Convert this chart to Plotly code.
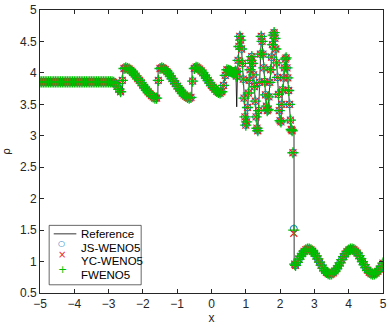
import numpy as np
import plotly.graph_objects as go

# numerical grid (cell centres), finer in the oscillatory zone
x_a = np.round(np.arange(-5.0, 0.476, 0.05), 3)
x_b = np.round(np.arange(0.5, 2.426, 0.025), 3)
x_c = np.round(np.arange(2.45, 5.001, 0.05), 3)

# density
rho_a = [3.857] * 43 + [
    3.85, 3.83, 3.79, 3.74, 3.70, 3.88, 4.07,
    4.08, 4.07, 4.06, 4.04, 4.01, 3.98, 3.95, 3.91, 3.88, 3.84, 3.80,
    3.77, 3.73, 3.70, 3.67, 3.64, 3.62, 3.60, 3.60, 3.88, 4.07,
    4.08, 4.07, 4.05, 4.02, 3.99, 3.95, 3.91, 3.87, 3.83, 3.79,
    3.75, 3.72, 3.68, 3.65, 3.63, 3.61, 3.60, 3.61, 3.87, 4.07,
    4.09, 4.08, 4.06, 4.03, 4.00, 3.96, 3.92, 3.88, 3.84, 3.80,
    3.77, 3.74, 3.71, 3.69, 3.68, 3.70, 3.80, 3.96, 4.05,
]
rho_b = [
    4.04, 4.03, 4.03, 4.02, 4.01, 4.00, 4.00, 4.01, 4.03, 3.95,
    4.02, 4.20, 4.42, 4.58, 4.52, 4.38, 4.15, 3.90, 3.60, 3.30,
    3.17, 3.22, 3.45, 3.68, 3.88, 4.05, 4.20, 4.26, 4.15, 3.97,
    3.78, 3.55, 3.30, 3.12, 3.08, 3.40, 3.85, 4.30, 4.58, 4.50,
    4.30, 4.08, 3.86, 3.65, 3.47, 3.40, 3.42, 3.62, 3.85, 4.05,
    4.25, 4.45, 4.60, 4.64, 4.55, 4.38, 4.16, 3.93, 3.66, 3.40,
    3.24, 3.22, 3.50, 3.73, 3.92, 4.08, 4.22, 4.24, 4.08, 3.92,
    3.72, 3.50, 3.25, 3.10, 3.08, 2.73, 1.50, 0.96,
]
rho_c = [
    0.938, 0.987, 1.037, 1.084, 1.126, 1.161, 1.185, 1.198, 1.199, 1.187,
    1.164, 1.130, 1.088, 1.041, 0.992, 0.942, 0.897, 0.858, 0.827, 0.808,
    0.800, 0.805, 0.822, 0.850, 0.886, 0.931, 0.980, 1.030, 1.078, 1.121,
    1.157, 1.183, 1.197, 1.199, 1.189, 1.167, 1.135, 1.094, 1.048, 0.998,
    0.949, 0.903, 0.862, 0.830, 0.809, 0.800, 0.804, 0.819, 0.845, 0.881,
    0.925, 0.974,
]
# value of the cell sitting in the main shock, per scheme
shock_js = 1.52
shock_yc = 1.45
shock_fw = 1.50

# reference solution (fine grid) key points up to the shock
ref_x = [-5.0, -2.90, -2.85, -2.80, -2.75, -2.70, -2.64, -2.595, -2.585, -2.50,
         -2.40, -2.30, -2.20, -2.10, -2.00, -1.90, -1.80, -1.70, -1.62, -1.565,
         -1.555, -1.45, -1.35, -1.25, -1.15, -1.05, -0.95, -0.85, -0.75, -0.65,
         -0.575, -0.565, -0.45, -0.35, -0.25, -0.15, -0.05, 0.05, 0.15, 0.25,
         0.30, 0.35, 0.40, 0.45, 0.55, 0.65, 0.71, 0.735, 0.76, 0.80,
         0.835, 0.87, 0.92, 0.96, 1.01, 1.06, 1.12, 1.18, 1.23, 1.28,
         1.35, 1.40, 1.455, 1.50, 1.55, 1.60, 1.645, 1.70, 1.76, 1.835,
         1.88, 1.93, 1.98, 2.02, 2.07, 2.13, 2.17, 2.22, 2.27, 2.32,
         2.36, 2.405, 2.41]
ref_rho = [3.857, 3.857, 3.85, 3.83, 3.79, 3.74, 3.69, 3.68, 4.07, 4.08,
           4.06, 4.01, 3.95, 3.88, 3.80, 3.73, 3.67, 3.62, 3.59, 3.60,
           4.07, 4.08, 4.05, 3.99, 3.91, 3.83, 3.75, 3.68, 3.63, 3.60,
           3.60, 4.08, 4.09, 4.06, 4.00, 3.92, 3.84, 3.77, 3.71, 3.67,
           3.69, 3.80, 3.97, 4.05, 4.03, 4.00, 4.04, 3.46, 4.05, 4.45,
           4.64, 4.45, 4.00, 3.50, 3.12, 3.50, 4.00, 4.28, 3.95, 3.50,
           3.03, 3.80, 4.64, 4.30, 3.85, 3.45, 3.38, 3.85, 4.30, 4.68,
           4.35, 3.90, 3.35, 3.20, 3.70, 4.10, 4.26, 3.95, 3.55, 3.08,
           3.10, 3.12, 0.91]

legend_labels = ["Reference", "JS-WENO5", "YC-WENO5", "FWENO5"]

x_num = np.concatenate([x_a, x_b, x_c])
i_shock = len(x_a) + list(x_b).index(2.4)


def scheme(shock_val):
    vals = list(rho_a) + list(rho_b) + list(rho_c)
    vals[i_shock] = shock_val
    return vals


x_ref = list(ref_x) + list(x_c)
y_ref = list(ref_rho) + list(rho_c)

AX = "#262626"
BLUE = "#0072BD"
RED = "#F01E1E"
GREEN = "#00BE00"
FONT = "Liberation Sans, Arial"

fig = go.Figure()
fig.add_trace(go.Scatter(x=x_ref, y=y_ref, mode="lines", name=legend_labels[0],
                         line=dict(color="black", width=0.8)))
fig.add_trace(go.Scatter(x=x_num, y=scheme(shock_js), mode="markers", name=legend_labels[1],
                         marker=dict(symbol="circle-open", size=7, color=BLUE,
                                     line=dict(width=1))))
fig.add_trace(go.Scatter(x=x_num, y=scheme(shock_yc), mode="markers", name=legend_labels[2],
                         marker=dict(symbol="x-thin-open", size=7, color=RED,
                                     line=dict(width=1.1, color=RED))))
fig.add_trace(go.Scatter(x=x_num, y=scheme(shock_fw), mode="markers", name=legend_labels[3],
                         marker=dict(symbol="cross-thin-open", size=8, color=GREEN,
                                     line=dict(width=1.3, color=GREEN))))

axis_style = dict(showline=True, linecolor=AX, linewidth=0.8, mirror="ticks",
                  ticks="inside", ticklen=4, tickcolor=AX, tickwidth=0.8,
                  showgrid=False, zeroline=False, ticklabeloverflow="allow",
                  tickfont=dict(family=FONT, size=12, color=AX))
fig.update_xaxes(range=[-5.0001, 5.0001], dtick=1, tick0=-5,
                 title=dict(text="x", standoff=2, font=dict(family=FONT, size=12, color=AX)),
                 **axis_style)
fig.update_yaxes(range=[0.4999, 5.0001], dtick=0.5, tick0=0.5,
                 title=dict(text="ρ", standoff=9, font=dict(family="DejaVu Sans", size=11, color=AX)),
                 **axis_style)

# legend box drawn by hand so entries sit as tightly as the original
fig.add_shape(type="rect", xref="paper", yref="paper", x0=0.0267, x1=0.295,
              y0=0.029, y1=0.239, line=dict(color=AX, width=0.7), fillcolor="white")
fig.add_shape(type="line", xref="paper", yref="paper", x0=0.040, x1=0.106,
              y0=0.209, y1=0.209, line=dict(color="black", width=0.8))
rows_y = [0.209, 0.160, 0.112, 0.063]
legend_syms = [("○", 8, BLUE, -0.005), ("×", 10, RED, 0.0), ("+", 11, GREEN, -0.006)]
for (sym, size, col, dy), yy in zip(legend_syms, rows_y[1:]):
    fig.add_annotation(x=0.0497, y=yy + dy, xref="paper", yref="paper", text=sym,
                       showarrow=False, borderpad=0,
                       font=dict(family="DejaVu Sans", size=size, color=col))
for lab, yy in zip(legend_labels, rows_y):
    fig.add_annotation(x=0.118, y=yy, xref="paper", yref="paper", text=lab, showarrow=False,
                       borderpad=0, font=dict(family=FONT, size=11.5, color="black"),
                       xanchor="left", yanchor="middle")

fig.update_layout(width=390, height=328, autosize=False, showlegend=False,
                  margin=dict(l=39, r=3, t=5, b=35),
                  paper_bgcolor="white", plot_bgcolor="white")
fig.write_html("out.html", config={"displayModeBar": False},
               post_script="document.body.style.margin='0';")
